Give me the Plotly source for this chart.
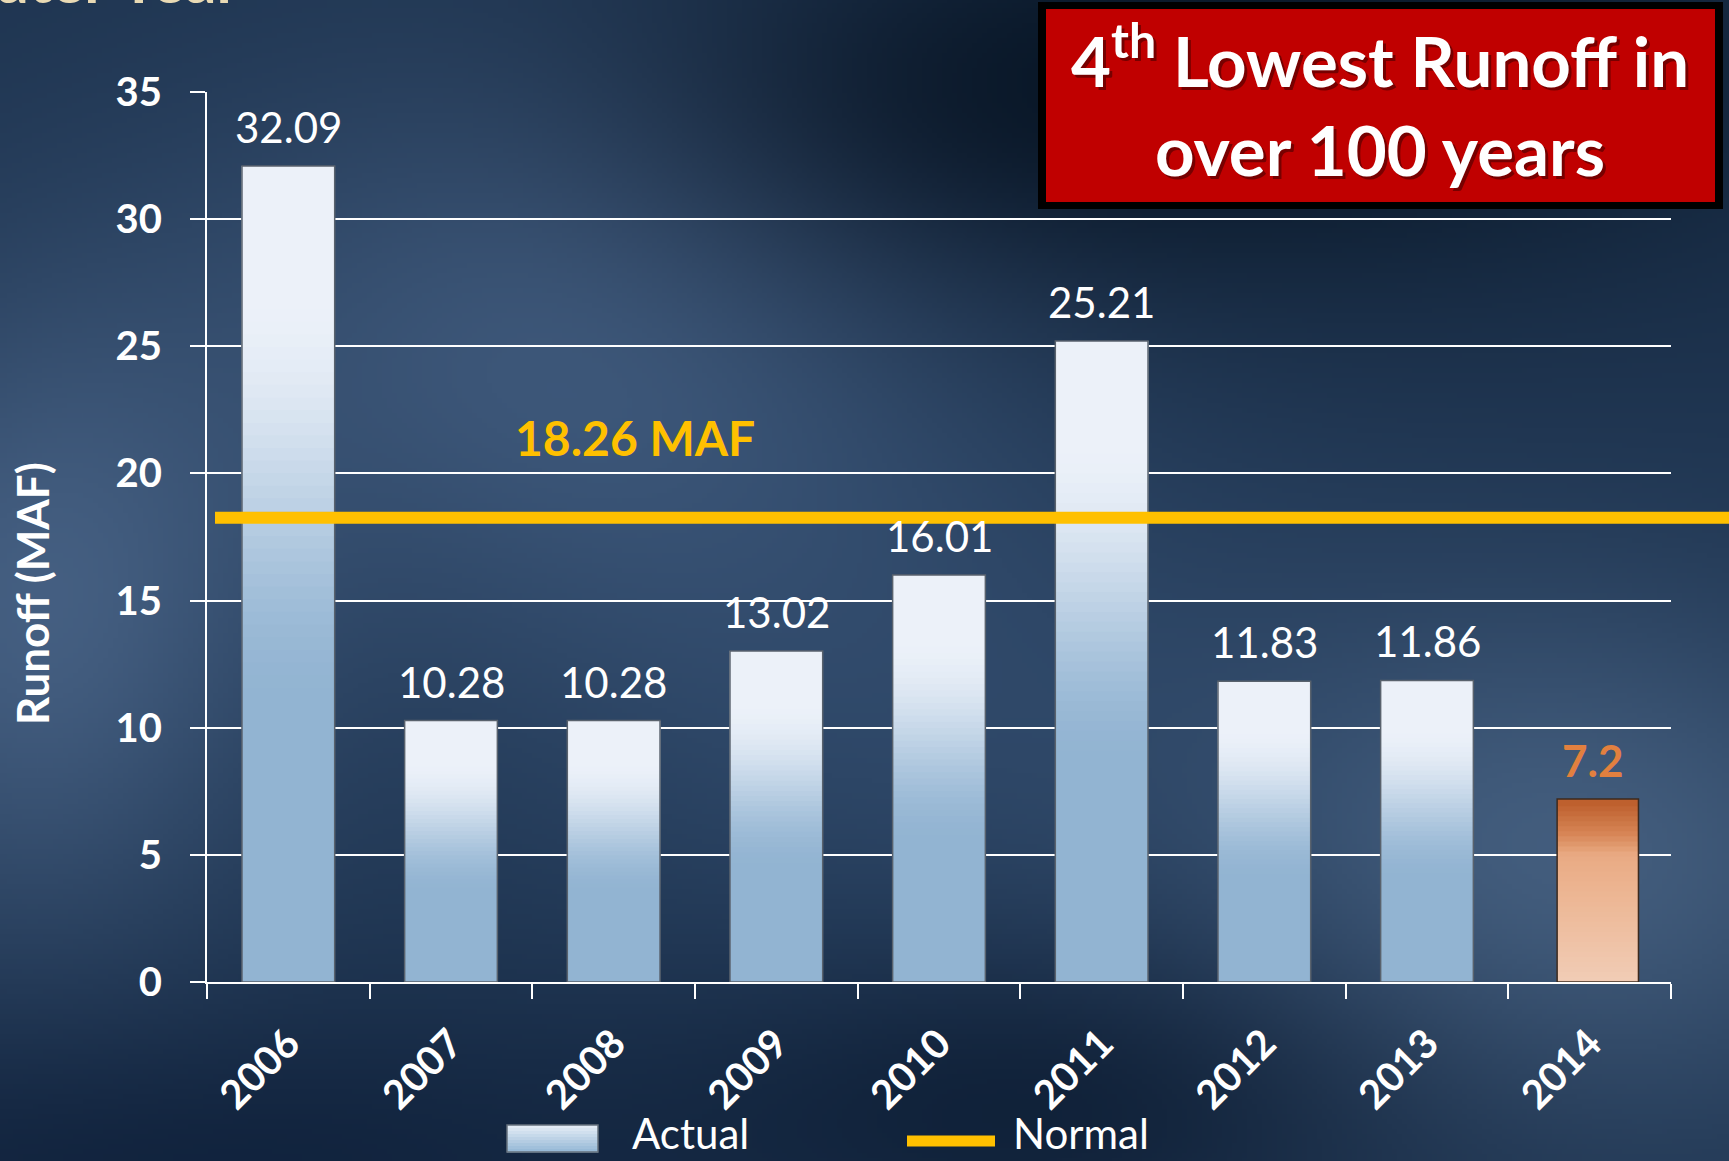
import base64
import struct
import zlib

import numpy as np
import plotly.graph_objects as go

# ---- data -------------------------------------------------------------
years = ["2006", "2007", "2008", "2009", "2010", "2011", "2012", "2013", "2014"]
runoff = [32.09, 10.28, 10.28, 13.02, 16.01, 25.21, 11.83, 11.86, 7.2]
runoff_labels = ["32.09", "10.28", "10.28", "13.02", "16.01", "25.21", "11.83", "11.86", "7.2"]
highlight_year = "2014"
normal_runoff = 18.26
y_ticks = [0, 5, 10, 15, 20, 25, 30, 35]

# ---- page geometry (pixels) -------------------------------------------
W, H = 1729, 1161
L, R, T, B = 207, 1671, 92, 982


def px(x):
    return (x - L) / (R - L)


def py(y):
    return (B - y) / (B - T)


def lerp(c0, c1, t):
    t = min(max(t, 0.0), 1.0)
    return tuple(a + (b - a) * t for a, b in zip(c0, c1))


def rgb(c):
    return "rgb(%d,%d,%d)" % tuple(int(round(v)) for v in c)


def blue_at(f):
    # light blue at the foot, near white at the top
    t = (f - 0.33) / (0.84 - 0.33)
    t = t * t * (3 - 2 * t) if 0 < t < 1 else (0 if t <= 0 else 1)
    return lerp((146, 180, 210), (236, 241, 249), t)


def orange_at(f):
    stops = [(0.0, (241, 204, 181)), (0.5, (236, 180, 145)), (0.68, (233, 170, 131)),
             (0.8, (214, 132, 84)), (0.96, (190, 96, 46)), (1.0, (190, 96, 46))]
    for (f0, c0), (f1, c1) in zip(stops, stops[1:]):
        if f <= f1:
            return lerp(c0, c1, (f - f0) / (f1 - f0))
    return stops[-1][1]


def png_uri(arr):
    h, w, _ = arr.shape
    raw = b"".join(b"\x00" + arr[i].tobytes() for i in range(h))

    def chunk(tag, data):
        return (struct.pack(">I", len(data)) + tag + data
                + struct.pack(">I", zlib.crc32(tag + data) & 0xFFFFFFFF))

    png = (b"\x89PNG\r\n\x1a\n"
           + chunk(b"IHDR", struct.pack(">IIBBBBB", w, h, 8, 2, 0, 0, 0))
           + chunk(b"IDAT", zlib.compress(raw, 9))
           + chunk(b"IEND", b""))
    return "data:image/png;base64," + base64.b64encode(png).decode()


# ---- slide background (soft dark-blue clouds) --------------------------
iw, ih = 346, 232
gx, gy = np.meshgrid((np.arange(iw) + 0.5) * W / iw, (np.arange(ih) + 0.5) * H / ih)
bg = np.zeros((ih, iw, 3)) + np.array([30, 52, 80])
clouds = [
    (560, 330, 280, 210, (30, 34, 40)),
    (30, 620, 170, 230, (36, 40, 46)),
    (1580, 860, 260, 190, (36, 40, 44)),
    (900, 700, 320, 210, (14, 17, 21)),
    (1280, 70, 380, 160, (-20, -27, -38)),
    (150, 1170, 420, 120, (-14, -18, -20)),
    (1080, 1090, 260, 110, (-16, -21, -26)),
    (880, 140, 220, 120, (-10, -14, -18)),
]
for cx, cy, sx, sy, dc in clouds:
    bg += np.exp(-(((gx - cx) / sx) ** 2 + ((gy - cy) / sy) ** 2) / 2)[..., None] * np.array(dc)
bg_uri = png_uri(np.clip(bg, 0, 255).astype(np.uint8))

# ---- traces -----------------------------------------------------------
actual = [None if y == highlight_year else v for y, v in zip(years, runoff)]
lowest = [v if y == highlight_year else None for y, v in zip(years, runoff)]


def band(vals, f, color, **kw):
    return go.Bar(
        x=years,
        base=[None if v is None else v * f for v in vals],
        y=[None if v is None else v * (1 - f) for v in vals],
        marker=dict(color=rgb(color), line=dict(width=0)),
        hoverinfo="skip", showlegend=False, **kw,
    )


fig = go.Figure()

blue_kw = dict(width=0.57)
for f in [0.0] + list(np.linspace(0.33, 0.84, 34)):
    fig.add_trace(band(actual, f, blue_at(f), **blue_kw))
fig.add_trace(go.Bar(x=years, y=actual, name="Actual", marker=dict(
    color="rgba(0,0,0,0)", line=dict(color="#59626d", width=1.5)), **blue_kw))

orange_kw = dict(width=0.5, offset=-0.2)
for f in np.linspace(0.0, 0.96, 36):
    fig.add_trace(band(lowest, f, orange_at(f), **orange_kw))
fig.add_trace(go.Bar(x=years, y=lowest, name="2014", marker=dict(
    color="rgba(0,0,0,0)", line=dict(color="#3d2a1e", width=1.5)), **orange_kw))

# normal line, reaching past the plot to the slide edge
fig.add_shape(type="line", xref="paper", yref="y", x0=px(215), x1=px(W + 5),
              y0=normal_runoff, y1=normal_runoff, line=dict(color="#ffc000", width=12))
fig.add_annotation(xref="paper", yref="y", x=px(635), y=normal_runoff, yshift=80,
                   xanchor="center", yanchor="middle",
                   text=f"{normal_runoff:.2f} MAF", showarrow=False,
                   font=dict(size=48, color="#ffc000", weight="bold"))

# value labels (category axis: position by index)
for i, (yr, v, lab) in enumerate(zip(years, runoff, runoff_labels)):
    hi = yr == highlight_year
    fig.add_annotation(x=i, y=v, text=lab, showarrow=False, xanchor="center",
                       yanchor="middle", yshift=39, xshift=3 if hi else 0,
                       font=dict(size=44 if hi else 42, color="#e2803f" if hi else "white",
                                 weight="bold" if hi else "normal"))

# y-axis title
fig.add_annotation(xref="paper", yref="paper", x=px(32), y=py(594), text="Runoff (MAF)",
                   xanchor="center", yanchor="middle",
                   textangle=-90, showarrow=False, font=dict(size=44, weight="bold"))

# red call-out box
fig.add_shape(type="rect", xref="paper", yref="paper", x0=px(1038), x1=px(1723),
              y0=py(2), y1=py(209), fillcolor="black", line=dict(width=0), layer="above")
fig.add_shape(type="rect", xref="paper", yref="paper", x0=px(1046), x1=px(1715),
              y0=py(9), y1=py(202), fillcolor="#c00000", line=dict(width=0), layer="above")
for txt, yc in [("4<sup>th</sup> Lowest Runoff in", 56), ("over 100 years", 150)]:
    for dx, dy, col in [(3, -3, "rgba(70,0,0,0.6)"), (0, 0, "white")]:
        fig.add_annotation(xref="paper", yref="paper", x=px(1380), y=py(yc), text=txt,
                           xanchor="center", yanchor="middle",
                           xshift=dx, yshift=dy, showarrow=False,
                           font=dict(size=69, color=col, weight="bold"))

# slide title, mostly above the visible area
fig.add_annotation(xref="paper", yref="paper", x=px(242), y=py(18), xanchor="right",
                   yanchor="bottom", text="Water Year", showarrow=False,
                   font=dict(size=62, color="#e9dab4", weight="bold"))

# hand-drawn legend
sw_top, sw_bot = 1125, 1152
n_strips = 9
for i in range(n_strips):
    y0 = sw_top + (sw_bot - sw_top) * i / n_strips
    y1 = sw_top + (sw_bot - sw_top) * (i + 1) / n_strips
    c = lerp((226, 235, 245), (152, 186, 215), i / (n_strips - 1))
    fig.add_shape(type="rect", xref="paper", yref="paper", x0=px(507), x1=px(598),
                  y0=py(y0), y1=py(y1 + 0.5), fillcolor=rgb(c), line=dict(width=0))
fig.add_shape(type="rect", xref="paper", yref="paper", x0=px(507), x1=px(598),
              y0=py(sw_top), y1=py(sw_bot), line=dict(color="#66717e", width=1.5))
fig.add_annotation(xref="paper", yref="paper", x=px(630), y=py(1160), xanchor="left",
                   yanchor="bottom", text="Actual", showarrow=False, font=dict(size=42))
fig.add_shape(type="line", xref="paper", yref="paper", x0=px(907), x1=px(995),
              y0=py(1141), y1=py(1141), line=dict(color="#ffc000", width=11))
fig.add_annotation(xref="paper", yref="paper", x=px(1011), y=py(1160), xanchor="left",
                   yanchor="bottom", text="Normal", showarrow=False, font=dict(size=42))

axis_common = dict(ticks="outside", ticklen=15, tickwidth=2, tickcolor="white",
                   showline=True, linecolor="white", linewidth=2, layer="below traces",
                   tickfont=dict(size=40, color="white", weight="bold"))

fig.update_layout(
    width=W, height=H,
    margin=dict(l=L, r=W - R, t=T, b=H - B, pad=0),
    barmode="overlay",
    showlegend=False,
    paper_bgcolor="rgb(30,52,80)",
    plot_bgcolor="rgba(0,0,0,0)",
    font=dict(family="Lato", color="white"),
    images=[dict(source=bg_uri, xref="paper", yref="paper", x=px(0), y=py(0),
                 sizex=W / (R - L), sizey=H / (B - T), xanchor="left", yanchor="top",
                 sizing="stretch", layer="below")],
    xaxis=dict(type="category", tickson="boundaries", showgrid=False, tickangle=-45,
               range=[-0.5, len(years) - 0.5], ticklabelstandoff=20, **axis_common),
    yaxis=dict(range=[0, 35], tickvals=y_ticks, showgrid=True, gridcolor="white",
               gridwidth=1.5, zeroline=False, ticklabelstandoff=20, **axis_common),
)

# the page body keeps a default 8px margin; drop it so the slide fills the window
fig.write_html("out.html", config={"displayModeBar": False},
               post_script="document.body.style.margin='0';")
